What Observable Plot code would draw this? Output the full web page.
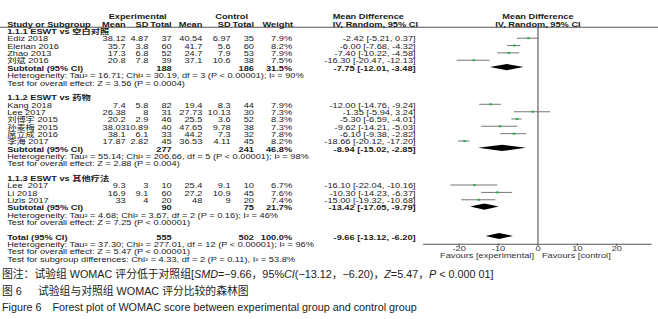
<!DOCTYPE html>
<html>
<head>
<meta charset="utf-8">
<script src="https://cdn.jsdelivr.net/npm/d3@7"></script>
<script src="https://cdn.jsdelivr.net/npm/@observablehq/plot@0.6"></script>
<style>
  html, body { margin: 0; padding: 0; background: #fff; }
  #chart svg { display: block; }
  .cap { font-family: "Liberation Sans", "Noto Sans CJK SC", sans-serif; font-size: 10.8px; line-height: 16.7px; color: #222; margin: 2px 0 0 2px; white-space: nowrap; }
  .cap i { font-style: italic; }
</style>
</head>
<body>
<div id="chart"></div>
<div class="cap">
  <div>图注：试验组 WOMAC 评分低于对照组[<i>SMD</i>=−9.66，95%<i>CI</i>(−13.12，−6.20)，<i>Z</i>=5.47，<i>P</i> &lt; 0.000 01]</div>
  <div>图 6&emsp;&ensp;试验组与对照组 WOMAC 评分比较的森林图</div>
  <div>Figure 6&emsp;Forest plot of WOMAC score between experimental group and control group</div>
</div>
<script>
// ---------------- data ----------------
const groupTitles = ["1.1.1 ESWT vs 空白对照", "1.1.2 ESWT vs 药物", "1.1.3 ESWT vs 其他疗法"];
const studyNames = ["Ediz 2018", "Elerian 2016", "Zhao 2013", "刘斌 2016",
  "Kang 2018", "Lee 2017", "刘博宇 2015", "孙麦梅 2015", "席立成 2016", "李海 2017",
  "Lee  2017", "Li 2018", "Lizis 2017"];
const studyGroup = [0, 0, 0, 0, 1, 1, 1, 1, 1, 1, 2, 2, 2];
const expMean = [38.12, 35.7, 17.3, 20.8, 7.4, 26.38, 20.2, 38.03, 38.1, 17.87, 9.3, 16.9, 33];
const expSD   = [4.87, 3.8, 6.8, 7.8, 5.8, 8, 2.9, 10.89, 6.1, 2.82, 3, 9.1, 4];
const expN    = [37, 60, 52, 39, 82, 31, 46, 40, 33, 45, 10, 60, 20];
const ctlMean = [40.54, 41.7, 24.7, 37.1, 19.4, 27.73, 25.5, 47.65, 44.2, 36.53, 25.4, 27.2, 48];
const ctlSD   = [6.97, 5.6, 7.9, 10.6, 8.3, 10.13, 3.6, 9.78, 7.3, 4.11, 9.1, 10.9, 9];
const ctlN    = [35, 60, 53, 38, 44, 30, 52, 38, 32, 45, 10, 45, 20];
const weight  = [7.9, 8.2, 7.9, 7.5, 7.9, 7.3, 8.3, 7.3, 7.8, 8.2, 6.7, 7.6, 7.4];
const md      = [-2.42, -6.00, -7.40, -16.30, -12.00, -1.35, -5.30, -9.62, -6.10, -18.66, -16.10, -10.30, -15.00];
const mdLow   = [-5.21, -7.68, -10.22, -20.47, -14.76, -5.94, -6.59, -14.21, -9.38, -20.12, -22.04, -14.23, -19.32];
const mdHigh  = [0.37, -4.32, -4.58, -12.13, -9.24, 3.24, -4.01, -5.03, -2.82, -17.20, -10.16, -6.37, -10.68];

const subLabels = ["Subtotal (95% CI)", "Subtotal (95% CI)", "Subtotal (95% CI)", "Total (95% CI)"];
const subExpN   = [188, 277, 90, 555];
const subCtlN   = [186, 241, 75, 502];
const subWeight = [31.5, 46.8, 21.7, 100.0];
const subMD     = [-7.75, -8.94, -13.42, -9.66];
const subLow    = [-12.01, -15.02, -17.05, -13.12];
const subHigh   = [-3.48, -2.85, -9.79, -6.20];
const heterogeneity = [
  "Heterogeneity: Tau² = 16.71; Chi² = 30.19, df = 3 (P < 0.00001); I² = 90%",
  "Heterogeneity: Tau² = 55.14; Chi² = 206.66, df = 5 (P < 0.00001); I² = 98%",
  "Heterogeneity: Tau² = 4.68; Chi² = 3.67, df = 2 (P = 0.16); I² = 46%",
  "Heterogeneity: Tau² = 37.30; Chi² = 277.01, df = 12 (P < 0.00001); I² = 96%"
];
const overallTests = [
  "Test for overall effect: Z = 3.56 (P = 0.0004)",
  "Test for overall effect: Z = 2.88 (P = 0.004)",
  "Test for overall effect: Z = 7.25 (P < 0.00001)",
  "Test for overall effect: Z = 5.47 (P < 0.00001)"
];
const subgroupTest = "Test for subgroup differences: Chi² = 4.33, df = 2 (P = 0.11), I² = 53.8%";

const headerTop = ["Experimental", "Control", "Mean Difference"];
const headerBottom = ["Study or Subgroup", "Mean", "SD", "Total", "Mean", "SD", "Total", "Weight", "IV, Random, 95% CI"];
const forestHeader = ["Mean Difference", "IV, Random, 95% CI"];
const favours = ["Favours [experimental]", "Favours [control]"];
const xTicks = [-20, -10, 0, 10, 20];
const xDomain = [-29, 29];

// ---------------- layout ----------------
const S = 1.32;                // horizontal stretch of the original figure
const W = 658, H = 264;
const PW = W / S;
const yDomain = [-2, 31], yRange = [15.67, 258.0];
const frameTop = 26.7, frameBottom = 243.7;
const rowAt = px => yDomain[0] + (px - yRange[0]) * (yDomain[1] - yDomain[0]) / (yRange[1] - yRange[0]);
const FONT = "Liberation Sans, Arial, Noto Sans CJK SC, sans-serif";
const INK = "#1a1a1a";
const NOTE_WORD_SPACING = 1.0;   // statistics lines are set with wide spaces

// column anchors in page pixels
const columns = [
  {key: "name",  px: 6.5,   anchor: "start"},
  {key: "eMean", px: 125,   anchor: "end"},
  {key: "eSD",   px: 147.7, anchor: "end"},
  {key: "eN",    px: 171,   anchor: "end"},
  {key: "cMean", px: 201.7, anchor: "end"},
  {key: "cSD",   px: 230,   anchor: "end"},
  {key: "cN",    px: 253.3, anchor: "end"},
  {key: "w",     px: 291.5, anchor: "end"},
  {key: "ci",    px: 415,   anchor: "end"}
];
const headerBottomPx = [6.5, 125, 147.7, 171, 201.7, 230, 253.3, 292.5, 332];
const headerBottomAnchor = ["start", "end", "end", "end", "end", "end", "end", "end", "start"];
const headerTopPx = [137, 231, 332];
const headerTopAnchor = ["middle", "middle", "start"];

const ciText = (m, l, h) => `${m.toFixed(2)} [${l.toFixed(2)}, ${h.toFixed(2)}]`;

// ---------------- rows ----------------
const tableRows = [], noteRows = [], studyRows = [], diamondPts = [];
let k = 0;
const addSummary = (j) => {
  tableRows.push({k, name: subLabels[j], eN: String(subExpN[j]), cN: String(subCtlN[j]),
    w: subWeight[j].toFixed(1) + "%", ci: ciText(subMD[j], subLow[j], subHigh[j]), bold: true});
  const h = 0.42;
  diamondPts.push({id: j, x: subLow[j], y1: k, y2: k});
  diamondPts.push({id: j, x: subMD[j], y1: k - h, y2: k + h});
  diamondPts.push({id: j, x: subHigh[j], y1: k, y2: k});
  k++;
  noteRows.push({k: k++, text: heterogeneity[j]});
  noteRows.push({k: k++, text: overallTests[j]});
};
groupTitles.forEach((title, g) => {
  tableRows.push({k: k++, name: title, bold: true});
  studyNames.forEach((n, i) => {
    if (studyGroup[i] !== g) return;
    tableRows.push({k, name: n, eMean: String(expMean[i]), eSD: String(expSD[i]), eN: String(expN[i]),
      cMean: String(ctlMean[i]), cSD: String(ctlSD[i]), cN: String(ctlN[i]),
      w: weight[i].toFixed(1) + "%", ci: ciText(md[i], mdLow[i], mdHigh[i]), bold: false});
    studyRows.push({k, md: md[i], lo: mdLow[i], hi: mdHigh[i]});
    k++;
  });
  addSummary(g);
  k++; // blank row
});
addSummary(3);
noteRows.push({k: k++, text: subgroupTest});

const headerTopRows = headerTop.map((t, i) => ({t, px: headerTopPx[i], a: headerTopAnchor[i]}));
const headerBottomRows = headerBottom.map((t, i) => ({t, px: headerBottomPx[i], a: headerBottomAnchor[i]}));

// ---------------- marks ----------------
const textMarks = [];
for (const col of columns) {
  for (const bold of [false, true]) {
    textMarks.push(Plot.text(tableRows.filter(d => d.bold === bold && d[col.key] != null), {
      y: "k", text: col.key, frameAnchor: "left", dx: col.px / S, dy: 1,
      textAnchor: col.anchor, fontWeight: bold ? "bold" : "normal", fill: INK
    }));
  }
}
textMarks.push(Plot.text(noteRows, {y: "k", text: "text", frameAnchor: "left", dx: 6.5 / S, dy: 1,
  textAnchor: "start", fill: INK, ariaLabel: "notes"}));
for (const d of headerTopRows) {
  textMarks.push(Plot.text([d], {y: () => -2, text: "t", frameAnchor: "left", dx: d.px / S, dy: 1,
    textAnchor: d.a, fontWeight: "bold", fill: INK}));
}
for (const d of headerBottomRows) {
  textMarks.push(Plot.text([d], {y: () => -1, text: "t", frameAnchor: "left", dx: d.px / S, dy: 1,
    textAnchor: d.a, fontWeight: "bold", fill: INK}));
}
textMarks.push(Plot.text(forestHeader, {x: () => 0, y: (d, i) => i - 2, text: d => d, dy: 1,
  textAnchor: "middle", fontWeight: "bold", fill: INK}));

const plot = Plot.plot({
  width: PW, height: H,
  marginLeft: 0, marginRight: 0, marginTop: frameTop, marginBottom: H - frameBottom,
  x: {domain: xDomain, range: [423 / S, 651.6 / S]},
  y: {domain: yDomain, range: yRange, axis: null},
  style: {fontFamily: FONT, fontSize: "7px", color: INK, background: "#fff", overflow: "visible"},
  marks: [
    Plot.ruleY([rowAt(frameTop)], {stroke: "#555", strokeWidth: 1}),
    Plot.ruleX([0], {stroke: "#222", strokeWidth: 0.75}),
    Plot.ruleY([rowAt(frameBottom)], {x1: xDomain[0], x2: xDomain[1], stroke: "#555", strokeWidth: 1}),
    Plot.axisX({ticks: xTicks, tickFormat: d => String(d), tickSize: 2, tickPadding: 0,
      anchor: "bottom", label: null, fontSize: 7, stroke: "#555", fill: "#333"}),
    Plot.text([favours[0]], {x: () => 0, frameAnchor: "bottom", dy: 13.5, text: d => d, dx: -4 / S,
      textAnchor: "end", fill: "#333"}),
    Plot.text([favours[1]], {x: () => 0, frameAnchor: "bottom", dy: 13.5, text: d => d, dx: 4 / S,
      textAnchor: "start", fill: "#333"}),
    Plot.ruleY(studyRows, {y: "k", x1: "lo", x2: "hi", stroke: "#777", strokeWidth: 1}),
    Plot.dot(studyRows, {x: "md", y: "k", symbol: "square", r: 1.1, fill: "#2fa84f", stroke: null}),
    Plot.areaY(diamondPts, {x: "x", y1: "y1", y2: "y2", z: "id", fill: "#000", curve: "linear"}),
    ...textMarks
  ]
});

d3.select(plot).selectAll('g[aria-label="notes"]').style("word-spacing", NOTE_WORD_SPACING + "px");

plot.setAttribute("width", W);
plot.setAttribute("height", H);
plot.setAttribute("viewBox", `0 0 ${PW} ${H}`);
plot.setAttribute("preserveAspectRatio", "none");
plot.style.width = W + "px";
plot.style.height = H + "px";
plot.style.maxWidth = "none";
document.getElementById("chart").appendChild(plot);
</script>
</body>
</html>
